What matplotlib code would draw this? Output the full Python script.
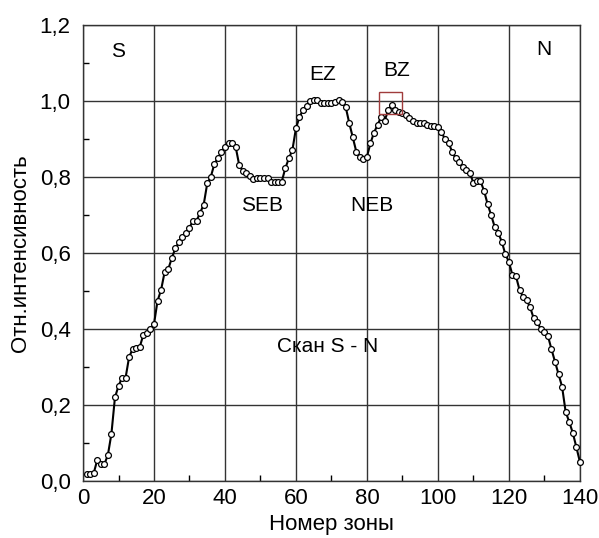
import numpy as np
import matplotlib
matplotlib.use("Agg")
import matplotlib.pyplot as plt
from matplotlib.patches import Rectangle
from matplotlib.ticker import MultipleLocator, FuncFormatter

plt.rcParams["font.family"] = ["Liberation Sans", "DejaVu Sans"]

# zone number 1..140, relative intensity
zone = np.arange(1, 141)
intensity = [
    0.018, 0.018, 0.020, 0.055, 0.044, 0.044, 0.068, 0.124, 0.220, 0.250,   # 1-10
    0.272, 0.272, 0.327, 0.347, 0.349, 0.353, 0.385, 0.390, 0.400, 0.413,   # 11-20
    0.474, 0.503, 0.550, 0.557, 0.586, 0.612, 0.628, 0.641, 0.652, 0.667,   # 21-30
    0.685, 0.685, 0.706, 0.727, 0.783, 0.800, 0.834, 0.850, 0.865, 0.880,   # 31-40
    0.889, 0.889, 0.880, 0.832, 0.816, 0.810, 0.803, 0.794, 0.798, 0.798,   # 41-50
    0.798, 0.798, 0.788, 0.788, 0.788, 0.788, 0.823, 0.849, 0.871, 0.928,   # 51-60
    0.958, 0.976, 0.987, 1.000, 1.003, 1.003, 0.996, 0.994, 0.994, 0.994,   # 61-70
    0.998, 1.003, 0.998, 0.985, 0.943, 0.905, 0.867, 0.853, 0.847, 0.853,   # 71-80
    0.889, 0.917, 0.937, 0.958, 0.948, 0.976, 0.990, 0.976, 0.972, 0.968,   # 81-90
    0.963, 0.955, 0.948, 0.943, 0.941, 0.941, 0.937, 0.934, 0.934, 0.931,   # 91-100
    0.919, 0.899, 0.890, 0.867, 0.849, 0.840, 0.827, 0.818, 0.811, 0.785,   # 101-110
    0.789, 0.789, 0.764, 0.729, 0.700, 0.669, 0.653, 0.630, 0.597, 0.577,   # 111-120
    0.542, 0.539, 0.503, 0.485, 0.476, 0.457, 0.428, 0.419, 0.399, 0.393,   # 121-130
    0.382, 0.347, 0.314, 0.282, 0.248, 0.182, 0.156, 0.127, 0.090, 0.051,   # 131-140
]

# region labels: (text, x, y)
labels = [("S", 10, 1.13), ("EZ", 67.5, 1.07), ("BZ", 88.5, 1.08), ("N", 130, 1.135),
          ("SEB", 50.5, 0.725), ("NEB", 81.5, 0.725), ("Скан S - N", 69, 0.353)]

fig = plt.figure(figsize=(5.99, 5.38), dpi=100)
ax = fig.add_axes([0.1386, 0.106, 0.8294, 0.8475])

ax.plot(zone, intensity, "-", color="black", lw=1.5, marker="o", ms=4.2,
        mfc="white", mec="black", mew=0.9, clip_on=False, zorder=3)

# highlighted BZ peak
ax.add_patch(Rectangle((83.4, 0.965), 6.4, 0.06, fill=False, ec="#a03c3c", lw=1, zorder=4))

for txt, x, y in labels:
    ax.text(x, y, txt, fontsize=15, ha="center", va="center")

ax.set_xlim(0, 140)
ax.set_ylim(0, 1.2)
ax.xaxis.set_major_locator(MultipleLocator(20))
ax.xaxis.set_minor_locator(MultipleLocator(10))
ax.yaxis.set_major_locator(MultipleLocator(0.2))
ax.yaxis.set_minor_locator(MultipleLocator(0.1))
ax.yaxis.set_major_formatter(FuncFormatter(lambda v, p: f"{v:.1f}".replace(".", ",")))
ax.tick_params(which="both", direction="in", labelsize=16, length=4, width=1)
ax.tick_params(axis="x", which="major", length=0, pad=5)
ax.tick_params(axis="y", which="major", length=0, pad=9)
ax.grid(True, which="major", color="#333333", lw=1)
for s in ax.spines.values():
    s.set_color("#333333")
    s.set_linewidth(1)

ax.set_xlabel("Номер зоны", fontsize=16, labelpad=4)
ax.set_ylabel("Отн.интенсивность", fontsize=16, labelpad=6)

fig.savefig("out.png", dpi=100)
